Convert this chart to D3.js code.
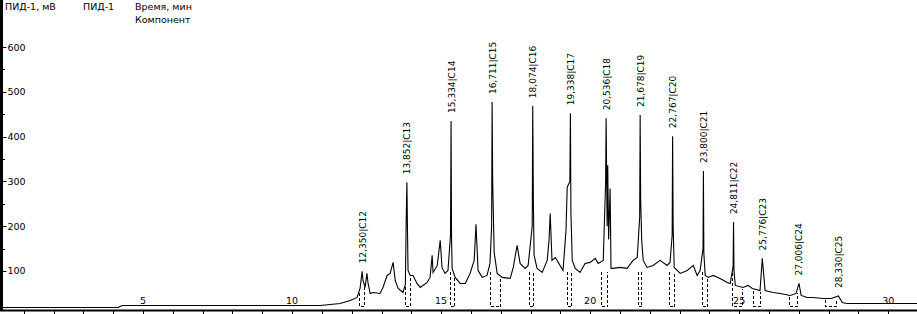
<!DOCTYPE html>
<html><head><meta charset="utf-8">
<script src="https://cdn.jsdelivr.net/npm/d3@7"></script>
<style>
html,body{margin:0;padding:0;background:#fff;}
svg{display:block;}
text{font-family:"DejaVu Sans",sans-serif;fill:#000;}
</style>
</head><body>
<svg id="c" width="917" height="314"></svg>
<script>
// ---------- DATA ----------
const legendTexts = ["ПИД-1, мВ", "ПИД-1", "Время, мин", "Компонент"];
const yTickValues = [100, 200, 300, 400, 500, 600];
const yMinorValues = [150, 250, 350, 450, 550];
const xTickLabels = [5, 10, 15, 20, 25, 30];

// labelled peaks (n-alkanes)
const peakNames   = ["C12","C13","C14","C15","C16","C17","C18","C19","C20","C21","C22","C23","C24","C25"];
const peakTimes   = [12.350,13.852,15.334,16.711,18.074,19.338,20.536,21.678,22.767,23.800,24.811,25.776,27.006,28.330];
const peakHeights = [99,298,435,477,468,452,441,448,401,323,209,128,72,44];
const peakStart   = [12.25,13.79,15.30,16.64,17.95,19.23,20.38,21.59,22.63,23.76,24.77,25.48,26.66,27.87];
const peakEnd     = [12.42,13.96,15.44,16.98,18.09,19.36,20.57,21.69,22.80,23.93,25.10,25.69,26.93,28.24];

// flanks of the labelled peaks
const flankTime  = [13.83,13.87, 15.315,15.35, 16.695,16.73, 18.057,18.095, 19.32,19.355, 20.52, 21.662,21.695, 22.752,22.785, 23.787,23.815, 24.797,24.826];
const flankValue = [220,200, 180,170, 200,300, 200,255, 300,230, 300, 220,260, 180,200, 150,140, 110,100];

// detector signal between the labelled apexes (time, min / value, mV)
const signalTime = [
  0.20,4.16,4.30,10.94,11.28,11.61,11.95,12.18,12.28,
  12.38,12.45,12.51,12.55,12.62,12.72,12.95,13.05,13.19,13.29,13.39,13.46,13.56,13.72,13.80,
  13.89,13.96,14.06,14.19,14.30,14.53,14.63,14.70,14.73,14.87,14.97,15.03,15.13,15.23,
  15.37,15.47,15.64,15.81,15.97,16.11,16.17,16.24,16.38,16.54,16.64,
  16.78,16.88,17.05,17.32,17.42,17.55,17.65,17.82,17.92,
  18.12,18.22,18.39,18.56,18.62,18.66,18.72,18.83,18.93,19.09,19.19,19.23,
  19.40,19.50,19.66,19.83,20.00,20.17,20.27,20.44,
  20.57,20.59,20.62,20.67,20.70,20.77,21.01,21.24,21.44,21.58,
  21.73,21.78,21.91,22.11,22.35,22.58,22.68,
  22.82,23.02,23.26,23.46,23.59,23.69,
  23.86,23.96,24.13,24.36,24.60,24.70,
  24.87,25.13,25.30,25.44,25.70,
  25.87,26.14,26.38,26.71,26.91,
  27.08,27.28,27.48,27.82,28.09,
  28.46,28.62,30.97
];
const signalValue = [
  18.3,18.3,22.8,22.8,25.1,27.3,34.0,40.7,60.8,
  78.7,63.1,94.4,72.0,49.7,51.9,49.7,63.1,89.9,94.4,119.0,78.7,60.8,51.9,70.0,
  101.1,89.9,89.9,72.0,63.1,74.3,85.5,134.7,96.6,112.3,168.2,107.8,94.4,101.0,
  105.6,85.5,72.0,72.0,94.4,123.5,204.0,101.0,85.5,89.9,116.8,
  141.5,94.4,85.5,83.2,107.8,157.0,116.8,105.6,112.3,
  134.7,105.6,96.6,123.5,168.0,228.0,123.5,130.0,119.0,101.0,190.0,287.0,
  123.5,105.6,96.6,116.8,119.0,128.0,116.8,123.5,
  200.0,336.0,170.0,284.0,105.6,105.6,107.8,105.6,123.5,130.0,
  168.0,123.5,107.8,112.3,123.5,112.3,119.0,
  107.8,94.4,101.0,112.3,89.9,101.0,
  89.9,85.5,89.9,83.2,74.3,72.0,
  67.6,63.1,67.6,60.8,56.4,
  56.4,51.9,49.7,45.2,49.7,
  45.2,40.7,40.7,38.5,38.5,
  29.5,27.3,27.3
];

// ---------- CHART ----------
const W = 917, H = 314;
const svg = d3.select("#c");
const x = d3.scaleLinear().domain([0.2, 31.0]).range([0, 918]);
const y = d3.scaleLinear().domain([11.6, 705]).range([310.5, 0]);

const pts = signalTime.map((t, i) => ({t, v: signalValue[i]}))
  .concat(peakTimes.map((t, i) => ({t, v: peakHeights[i]})))
  .concat(flankTime.map((t, i) => ({t, v: flankValue[i]})))
  .sort((a, b) => a.t - b.t);

const interp = t => {
  const i = d3.bisector(d => d.t).left(pts, t);
  if (i <= 0) return pts[0].v;
  if (i >= pts.length) return pts[pts.length - 1].v;
  const a = pts[i - 1], b = pts[i];
  return a.v + (b.v - a.v) * (t - a.t) / (b.t - a.t);
};

// integration brackets
const bracketBottom = 22.5;
svg.append("g").selectAll("path").data(peakNames).join("path")
  .attr("d", (d, i) => {
    const xs = Math.round(x(peakStart[i])) + 0.5, xe = Math.round(x(peakEnd[i])) + 0.5;
    const yb = Math.round(y(bracketBottom)) + 0.5;
    const ys = Math.max(y(interp(peakStart[i])) + 2, yb - 35);
    const ye = Math.max(y(interp(peakEnd[i])) + 2, yb - 35);
    return `M${xs},${ys}V${yb}H${xe}V${ye}`;
  })
  .attr("fill", "none").attr("stroke", "#000").attr("stroke-width", 1)
  .attr("stroke-dasharray", "3,2").attr("shape-rendering", "crispEdges");

// signal
svg.append("path").datum(pts)
  .attr("d", d3.line().x(d => x(d.t)).y(d => y(d.v)))
  .attr("fill", "none").attr("stroke", "#000").attr("stroke-width", 1.1);

// peak labels
svg.append("g").selectAll("text").data(peakNames).join("text")
  .attr("transform", (d, i) => `translate(${x(peakTimes[i]) + 0.5},${y(peakHeights[i]) - 8}) rotate(-90)`)
  .attr("dominant-baseline", "central")
  .attr("font-size", 9)
  .text((d, i) => `${peakTimes[i].toFixed(3).replace(".", ",")}|${d}`);

// x axis (bottom)
svg.append("line").attr("x1", 0).attr("x2", W).attr("y1", 310.5).attr("y2", 310.5)
  .attr("stroke", "#000").attr("stroke-width", 2);
svg.append("g").selectAll("line").data(d3.range(1, 31)).join("line")
  .attr("x1", d => Math.round(x(d)) + 0.5).attr("x2", d => Math.round(x(d)) + 0.5)
  .attr("y1", 311).attr("y2", H).attr("stroke", "#000").attr("stroke-width", 1);
svg.append("g").selectAll("text").data(xTickLabels).join("text")
  .attr("x", d => x(d)).attr("y", 304).attr("text-anchor", "middle")
  .attr("font-size", 9.5).text(d => d);

// y axis (left)
svg.append("line").attr("x1", 1.5).attr("x2", 1.5).attr("y1", 0).attr("y2", 311)
  .attr("stroke", "#000").attr("stroke-width", 3);
svg.append("g").selectAll("line").data(yTickValues).join("line")
  .attr("x1", 3).attr("x2", 6.5)
  .attr("y1", d => Math.round(y(d)) + 0.5).attr("y2", d => Math.round(y(d)) + 0.5)
  .attr("stroke", "#000");
svg.append("g").selectAll("line").data(yMinorValues).join("line")
  .attr("x1", 3).attr("x2", 5)
  .attr("y1", d => Math.round(y(d)) + 0.5).attr("y2", d => Math.round(y(d)) + 0.5)
  .attr("stroke", "#000");
svg.append("g").selectAll("text").data(yTickValues).join("text")
  .attr("x", 7.5).attr("y", d => y(d)).attr("dominant-baseline", "central")
  .attr("font-size", 9.5).text(d => d);

// legend / header
const hdr = [[legendTexts[0], 5, 10], [legendTexts[1], 83, 10], [legendTexts[2], 135, 10], [legendTexts[3], 135, 23]];
svg.append("g").selectAll("text").data(hdr).join("text")
  .attr("x", d => d[1]).attr("y", d => d[2]).attr("font-size", 9.5).text(d => d[0]);
</script>
</body></html>
